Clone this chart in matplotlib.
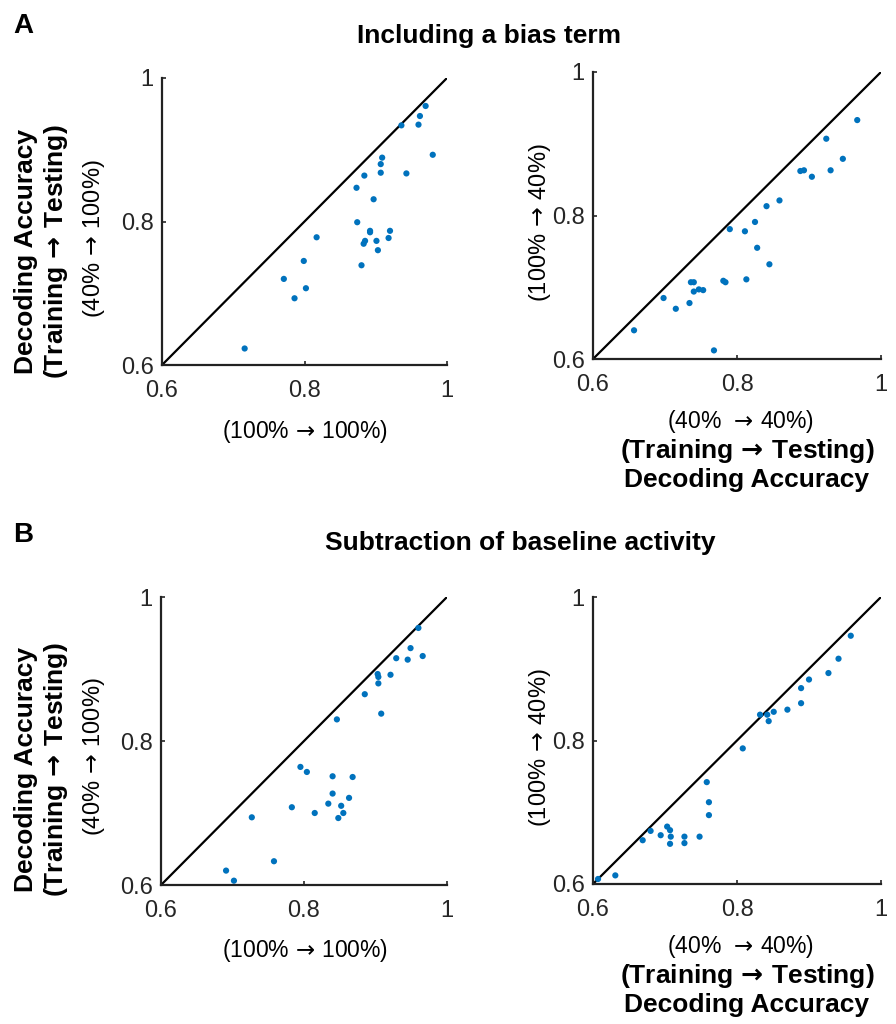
import matplotlib.pyplot as plt
import numpy as np

plt.rcParams['font.family'] = ['Liberation Sans', 'DejaVu Sans']
plt.rcParams['mathtext.fontset'] = 'dejavusans'

# Panel A, left: (100% -> 100%) vs (40% -> 100%)
a1_x = [0.970, 0.962, 0.960, 0.936, 0.980, 0.909, 0.907, 0.907, 0.943, 0.884,
        0.873, 0.897, 0.874, 0.817, 0.892, 0.892, 0.920, 0.918, 0.885, 0.883,
        0.901, 0.903, 0.880, 0.799, 0.771, 0.802, 0.786, 0.716]
a1_y = [0.961, 0.947, 0.935, 0.934, 0.893, 0.889, 0.880, 0.868, 0.867, 0.864,
        0.847, 0.831, 0.799, 0.778, 0.787, 0.785, 0.787, 0.777, 0.773, 0.769,
        0.773, 0.760, 0.739, 0.745, 0.720, 0.707, 0.693, 0.623]

# Panel A, right: (40% -> 40%) vs (100% -> 40%)
a2_x = [0.967, 0.924, 0.947, 0.930, 0.888, 0.893, 0.904, 0.859, 0.841, 0.825,
        0.790, 0.811, 0.828, 0.845, 0.813, 0.781, 0.784, 0.736, 0.740, 0.740,
        0.747, 0.753, 0.698, 0.715, 0.734, 0.657, 0.768]
a2_y = [0.933, 0.907, 0.879, 0.863, 0.862, 0.863, 0.854, 0.821, 0.813, 0.791,
        0.781, 0.778, 0.755, 0.732, 0.711, 0.709, 0.707, 0.707, 0.707, 0.694,
        0.697, 0.696, 0.685, 0.670, 0.678, 0.640, 0.612]

# Panel B, left
b1_x = [0.960, 0.949, 0.929, 0.945, 0.966, 0.903, 0.904, 0.921, 0.904, 0.885,
        0.908, 0.846, 0.795, 0.804, 0.840, 0.868, 0.840, 0.863, 0.834, 0.852,
        0.783, 0.855, 0.815, 0.848, 0.727, 0.758, 0.691, 0.702]
b1_y = [0.957, 0.929, 0.915, 0.913, 0.918, 0.893, 0.889, 0.892, 0.880, 0.865,
        0.838, 0.830, 0.764, 0.757, 0.751, 0.750, 0.727, 0.721, 0.713, 0.710,
        0.708, 0.700, 0.700, 0.693, 0.694, 0.633, 0.620, 0.606]

# Panel B, right
b2_x = [0.958, 0.941, 0.927, 0.900, 0.889, 0.889, 0.870, 0.851, 0.842, 0.832,
        0.844, 0.808, 0.758, 0.761, 0.761, 0.703, 0.707, 0.680, 0.694, 0.708,
        0.727, 0.748, 0.669, 0.707, 0.727, 0.631, 0.607]
b2_y = [0.946, 0.914, 0.894, 0.885, 0.873, 0.852, 0.843, 0.840, 0.836, 0.836,
        0.827, 0.789, 0.742, 0.714, 0.696, 0.680, 0.675, 0.674, 0.668, 0.666,
        0.666, 0.666, 0.661, 0.656, 0.657, 0.612, 0.607]

ticks = [0.6, 0.8, 1.0]
tick_labels = ['0.6', '0.8', '1']
dot_color = '#0072BD'
W, H = 896, 1024

fig = plt.figure(figsize=(8.96, 10.24), dpi=100)


def scatter_panel(rect, xs, ys):
    ax = fig.add_axes(rect)
    ax.plot([0.6, 1.0], [0.6, 1.0], color='black', lw=1.6, zorder=1)
    ax.scatter(xs, ys, s=20, color=dot_color, edgecolors='none', zorder=2)
    ax.set_xlim(0.6, 1.0)
    ax.set_ylim(0.6, 1.0)
    ax.set_xticks(ticks)
    ax.set_xticklabels(tick_labels)
    ax.set_yticks(ticks)
    ax.set_yticklabels(tick_labels)
    for s in ['top', 'right']:
        ax.spines[s].set_visible(False)
    for s in ['left', 'bottom']:
        ax.spines[s].set_linewidth(1.6)
        ax.spines[s].set_color('#222222')
    ax.tick_params(direction='in', length=3, width=1.2, labelsize=17,
                   colors='#262626')
    ax.tick_params(axis='x', pad=11)
    ax.tick_params(axis='y', pad=6)
    return ax


# axes rectangles from pixel edges (left, top, right, bottom)
def rect(l, t, r, b):
    return [l / W, 1 - b / H, (r - l) / W, (b - t) / H]


scatter_panel(rect(162, 78, 447, 365), a1_x, a1_y)
scatter_panel(rect(593, 72, 881, 359), a2_x, a2_y)
scatter_panel(rect(161, 597, 447, 885), b1_x, b1_y)
scatter_panel(rect(593, 597, 881, 884), b2_x, b2_y)

arrow = r' $\!\rightarrow\!$ '
barrow = r' $\!\boldsymbol{\rightarrow}\!$ '


def txt(x, y, s, **kw):
    fig.text(x / W, 1 - y / H, s, **kw)


# panel letters and titles
txt(13, 33, 'A', fontsize=20, fontweight='bold', va='baseline')
txt(13, 542, 'B', fontsize=20, fontweight='bold', va='baseline')
txt(489, 43, 'Including a bias term', ha='center', va='baseline',
    fontsize=19, fontweight='bold')
txt(520, 550, 'Subtraction of baseline activity', ha='center', va='baseline',
    fontsize=19, fontweight='bold')

# left y labels
for yc in [252, 770]:
    txt(26, yc, 'Decoding Accuracy', rotation=90, ha='center', va='center',
        fontsize=19, fontweight='bold')
    txt(56, yc, '(Training' + barrow + 'Testing)', rotation=90, ha='center',
        va='center', fontsize=19, fontweight='bold')
    txt(94, yc - 13, '(40%' + arrow + '100%)', rotation=90, ha='center',
        va='center', fontsize=17)

# right y labels
for yc in [223, 748]:
    txt(540, yc, '(100%' + arrow + '40%)', rotation=90, ha='center',
        va='center', fontsize=17)

# left x labels
txt(305, 438, '(100%' + arrow + '100%)', ha='center', va='baseline', fontsize=16.5)
txt(305, 957, '(100%' + arrow + '100%)', ha='center', va='baseline', fontsize=16.5)

# right x labels
for yb in [428, 953]:
    txt(741, yb, '(40%  ' + r'$\!\rightarrow\!$ ' + '40%)', ha='center',
        va='baseline', fontsize=16.5)
    txt(747, yb + 30, '(Training' + barrow + 'Testing)', ha='center',
        va='baseline', fontsize=19, fontweight='bold')
    txt(747, yb + 59, 'Decoding Accuracy', ha='center', va='baseline',
        fontsize=19, fontweight='bold')

fig.savefig('out.png', dpi=100)
